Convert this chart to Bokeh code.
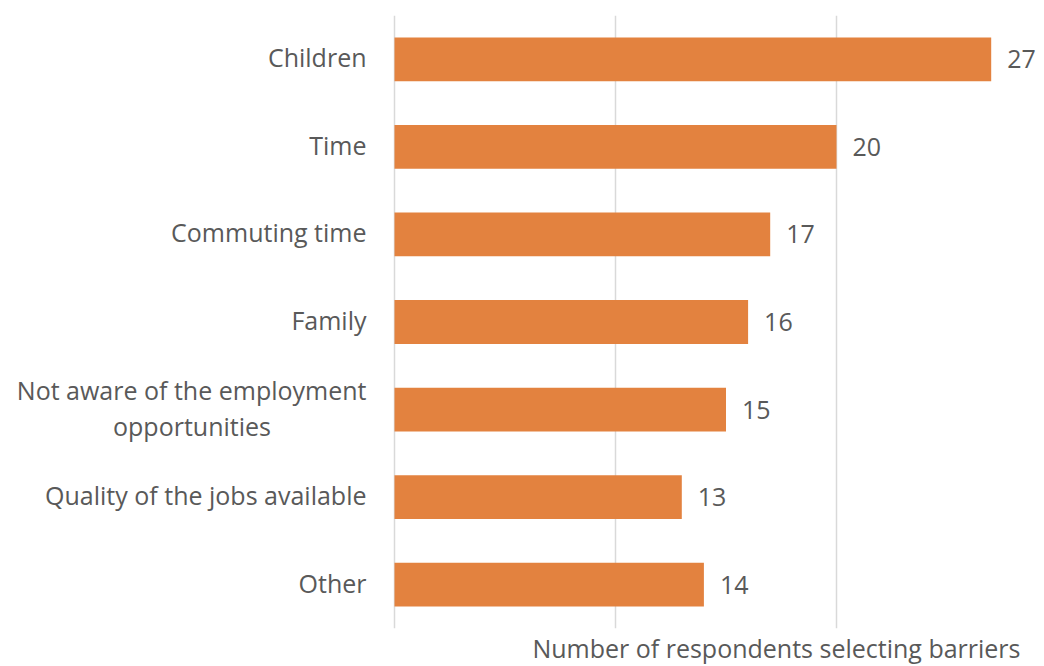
from bokeh.plotting import figure
from bokeh.models import ColumnDataSource, FactorRange, Range1d, FixedTicker, Title
from bokeh.core.properties import value
from bokeh.embed import file_html
from bokeh.resources import INLINE

categories = ["Children", "Time", "Commuting time", "Family",
              "Not aware of the employment\nopportunities",
              "Quality of the jobs available", "Other"]
counts = [27, 20, 17, 16, 15, 13, 14]
grid_ticks = [0, 10, 20]
axis_title = "Number of respondents selecting barriers"

FONT = "Open Sans"
TEXT = "#595959"
BAR = "#E3823F"
FS = "25px"

# layout constants (pixels)
ZERO_PX = 394          # screen x of value 0
PX_PER_UNIT = 22.1
W = 1044
LABEL_GAP = 28
LINE_STEP = 36
FIRST_LINE_W = 349     # width of the first line of a two-line label

src = ColumnDataSource(dict(cat=categories, n=counts, lab=[str(v) for v in counts]))

# category label lines
lc, lt, lxo, lyo, la = [], [], [], [], []
for c in categories:
    lines = c.split("\n")
    k = len(lines)
    for i, ln in enumerate(lines):
        lc.append(c)
        lt.append(ln)
        lyo.append((i - (k - 1) / 2) * LINE_STEP - 2)
        if i == 0:
            lxo.append(-LABEL_GAP)
            la.append("right")
        else:
            lxo.append(-LABEL_GAP - FIRST_LINE_W / 2)
            la.append("center")
lab_src = ColumnDataSource(dict(cat=lc, txt=lt, xo=lxo, yo=lyo, al=la, x0=[0] * len(lc)))

factors = list(reversed(categories))
p = figure(width=W, height=666, output_backend="svg", toolbar_location=None,
           y_range=FactorRange(*factors),
           x_range=Range1d(-ZERO_PX / PX_PER_UNIT, (W - ZERO_PX) / PX_PER_UNIT),
           min_border_left=0, min_border_right=0, min_border_top=15, min_border_bottom=38)
p.outline_line_color = None
p.background_fill_color = "white"

p.hbar(y="cat", right="n", left=0, height=0.5, source=src, color=BAR, line_color=None)
p.text(x="n", y="cat", text="lab", source=src, x_offset=16, text_baseline="middle",
       text_align="left", text_font=value(FONT), text_font_size=FS, text_color=TEXT)
p.text(x="x0", y="cat", text="txt", source=lab_src, x_offset="xo", y_offset="yo",
       text_align="al", text_baseline="middle",
       text_font=value(FONT), text_font_size=FS, text_color=TEXT)

p.xgrid.ticker = FixedTicker(ticks=grid_ticks)
p.xgrid.grid_line_color = "#D9D9D9"
p.xgrid.grid_line_width = 1.5
p.ygrid.grid_line_color = None
p.xaxis.visible = False
p.yaxis.visible = False

t = Title(text=axis_title, align="right", offset=24, standoff=0, vertical_align="bottom",
          text_font=FONT, text_font_size=FS, text_color=TEXT, text_font_style="normal")
p.add_layout(t, "below")

open("out.html", "w").write(file_html(p, INLINE))
